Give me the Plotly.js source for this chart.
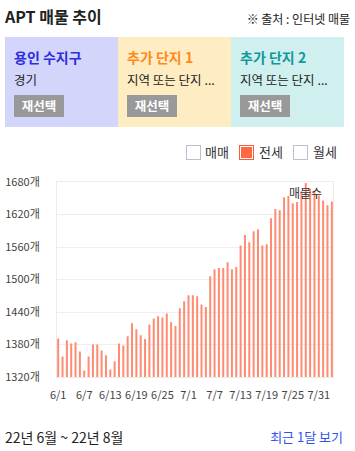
<!DOCTYPE html>
<html>
<head>
<meta charset="utf-8">
<script src="https://cdn.plot.ly/plotly-3.0.1.min.js"></script>
<style>
  html, body { margin:0; padding:0; background:#fff; }
  body { width:355px; height:451px; position:relative; overflow:hidden;
         font-family:"Noto Sans CJK KR","Noto Sans",sans-serif; color:#222; }
  .abs { position:absolute; white-space:nowrap; }
  #chart { position:absolute; left:0; top:0; width:355px; height:451px; }
  .panel { position:absolute; top:37px; height:90px; width:113px; }
  .ptitle { position:absolute; left:9px; top:10px; font-size:14px; font-weight:bold; line-height:20px; }
  .psub { position:absolute; left:9px; top:34px; font-size:12.5px; color:#222; line-height:18px; }
  .btn { position:absolute; left:9px; top:58px; width:50px; height:22px; background:#999;
         color:#fff; font-size:12.5px; font-weight:bold; line-height:22px; text-align:center; }
  .cb { position:absolute; top:145px; width:13px; height:13px; border:1px solid #bcc0cc; background:#fff; }
  .cbl { position:absolute; top:143px; font-size:13px; line-height:18px; color:#333; }
</style>
</head>
<body>
<div id="chart"></div>

<div class="abs" style="left:5px;top:5px;font-size:16px;font-weight:bold;line-height:22px;">APT 매물 추이</div>
<div class="abs" style="right:5px;top:11px;font-size:12px;line-height:16px;color:#222;">※ 출처 : 인터넷 매물</div>

<div class="panel" style="left:5px;background:#d4d5fb;">
  <div class="ptitle" style="color:#2d2ee0;">용인 수지구</div>
  <div class="psub">경기</div>
  <div class="btn">재선택</div>
</div>
<div class="panel" style="left:118px;background:#feecc2;">
  <div class="ptitle" style="color:#ff8a1c;">추가 단지 1</div>
  <div class="psub">지역 또는 단지 ...</div>
  <div class="btn">재선택</div>
</div>
<div class="panel" style="left:231px;background:#cff0ee;">
  <div class="ptitle" style="color:#14989a;">추가 단지 2</div>
  <div class="psub">지역 또는 단지 ...</div>
  <div class="btn">재선택</div>
</div>

<div class="cb" style="left:186px;"></div>
<div class="cbl" style="left:205px;">매매</div>
<div class="cb" style="left:239px;border-color:#f3603d;background:#ff6843;box-shadow:inset 0 0 0 1px #fff;"></div>
<div class="cbl" style="left:259px;">전세</div>
<div class="cb" style="left:293px;"></div>
<div class="cbl" style="left:313px;">월세</div>

<div class="abs" style="left:5px;top:427px;font-size:14px;line-height:20px;color:#222;">22년 6월 ~ 22년 8월</div>
<div class="abs" style="right:12px;top:428px;font-size:13px;line-height:18px;color:#3452ee;">최근 1달 보기</div>

<script>
const dates = [
  "6/1","6/2","6/3","6/4","6/5","6/6","6/7","6/8","6/9","6/10",
  "6/11","6/12","6/13","6/14","6/15","6/16","6/17","6/18","6/19","6/20",
  "6/21","6/22","6/23","6/24","6/25","6/26","6/27","6/28","6/29","6/30",
  "7/1","7/2","7/3","7/4","7/5","7/6","7/7","7/8","7/9","7/10",
  "7/11","7/12","7/13","7/14","7/15","7/16","7/17","7/18","7/19","7/20",
  "7/21","7/22","7/23","7/24","7/25","7/26","7/27","7/28","7/29","7/30",
  "7/31","8/1","8/2","8/3"
];
const listings = [
  1391,1358,1388,1382,1384,1367,1332,1358,1380,1380,
  1369,1360,1334,1349,1382,1378,1395,1419,1408,1397,
  1390,1417,1428,1432,1430,1437,1421,1414,1447,1460,
  1471,1471,1469,1454,1449,1506,1519,1521,1521,1532,
  1519,1523,1563,1582,1569,1589,1593,1563,1565,1613,
  1630,1628,1652,1654,1641,1643,1663,1678,1668,1661,
  1655,1646,1637,1644
];
const xTicks = ["6/1","6/7","6/13","6/19","6/25","7/1","7/7","7/13","7/19","7/25","7/31"];
const yTicks = [1320,1380,1440,1500,1560,1620,1680];
const yTickText = yTicks.map(v => v + "개");

const trace = {
  type: "bar",
  x: dates,
  y: listings,
  marker: { color: "#ff8b72" },
  hoverinfo: "skip"
};

const layout = {
  width: 355, height: 451,
  margin: { l: 57, r: 22, t: 182, b: 74, pad: 0 },
  paper_bgcolor: "rgba(0,0,0,0)",
  plot_bgcolor: "#fff",
  showlegend: false,
  bargap: 0.54,
  font: { family: "Noto Sans CJK KR, Noto Sans, sans-serif", size: 11, color: "#444" },
  xaxis: {
    type: "category",
    range: [-0.27, 63.27],
    tickmode: "array",
    tickvals: xTicks,
    ticktext: xTicks,
    ticks: "outside", ticklen: 8, tickcolor: "rgba(0,0,0,0)",
    showgrid: false,
    showline: true, mirror: true, linecolor: "#ececec", linewidth: 1,
    tickangle: 0,
    tickfont: { size: 11, color: "#444" },
    fixedrange: true
  },
  yaxis: {
    range: [1320, 1680],
    tickmode: "array",
    tickvals: yTicks,
    ticktext: yTickText,
    ticks: "outside", ticklen: 14, tickcolor: "rgba(0,0,0,0)",
    showgrid: true, gridcolor: "#eeeeee", gridwidth: 1,
    zeroline: false,
    showline: true, mirror: true, linecolor: "#ececec", linewidth: 1,
    tickfont: { size: 11, color: "#444" },
    fixedrange: true
  },
  annotations: [{
    xref: "paper", yref: "paper", x: 0.9, y: 0.946,
    xanchor: "center", yanchor: "middle",
    text: "매물수", showarrow: false,
    font: { size: 12, color: "#333" }
  }]
};

Plotly.newPlot("chart", [trace], layout, { displayModeBar: false, staticPlot: true });
</script>
</body>
</html>
